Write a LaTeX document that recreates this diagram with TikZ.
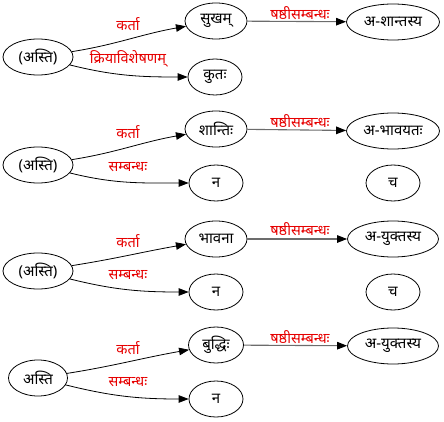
\documentclass[tikz,border=0pt]{standalone}
\usepackage{fontspec}
\newfontfamily\deva[Script=Devanagari]{Noto Sans}
\usetikzlibrary{shapes.geometric,arrows.meta}
\definecolor{lblred}{RGB}{230,0,0}
\begin{document}
\begin{tikzpicture}[x=1pt,y=-1pt,
  nd/.style={ellipse,draw=black,line width=0.8pt,inner sep=0pt,minimum height=36pt,font=\deva\fontsize{15}{17}\selectfont},
  lbl/.style={text=lblred,inner sep=0pt,font=\deva\fontsize{14.5}{16}\selectfont},
  ed/.style={draw=black,line width=0.8pt,-{Triangle[length=10pt,width=7.5pt]}},
  ged/.style={draw=gray!85!black,line width=1.1pt,-{Triangle[length=10pt,width=7.5pt,fill=black,color=black]}}]
\useasboundingbox (0,0) rectangle (444,422);
% group 1
\node[nd,minimum width=70pt] (a1) at (38,57) {(अस्ति)};
\node[nd,minimum width=62pt] (s1) at (216,21) {सुखम्};
\node[nd,minimum width=54pt] (k1) at (215,77) {कुतः};
\node[nd,minimum width=93pt] (r1) at (393,22) {अ-शान्तस्य};
\draw[ed] (a1) to[out=9,in=190] (s1);
\draw[ed] (a1) to[out=-14,in=180] (k1);
\draw[ged] (s1) -- (r1);
\node[lbl] (l1a) at (128,24) {कर्ता};
\node[lbl] (l1b) at (128,59) {क्रियाविशेषणम्};
\node[lbl] (l1c) at (300,13) {षष्ठीसम्बन्धः};
% group 2
\node[nd,minimum width=70pt] (a2) at (38,165) {(अस्ति)};
\node[nd,minimum width=62pt] (s2) at (216,129) {शान्तिः};
\node[nd,minimum width=54pt] (k2) at (216,183) {न};
\node[nd,minimum width=93pt] (r2) at (393,131) {अ-भावयतः};
\node[nd,minimum width=54pt] (c2) at (393,183) {च};
\draw[ed] (a2) to[out=9,in=190] (s2);
\draw[ed] (a2) to[out=-14,in=180] (k2);
\draw[ged] (s2) -- (r2);
\node[lbl] (l2a) at (128,132) {कर्ता};
\node[lbl] (l2b) at (128,167) {सम्बन्धः};
\node[lbl] (l2c) at (300,121) {षष्ठीसम्बन्धः};
% group 3
\node[nd,minimum width=70pt] (a3) at (38,271) {(अस्ति)};
\node[nd,minimum width=62pt] (s3) at (216,239) {भावना};
\node[nd,minimum width=54pt] (k3) at (216,292) {न};
\node[nd,minimum width=91pt] (r3) at (393,239) {अ-युक्तस्य};
\node[nd,minimum width=54pt] (c3) at (393,292) {च};
\draw[ed] (a3) to[out=9,in=190] (s3);
\draw[ed] (a3) to[out=-14,in=180] (k3);
\draw[ged] (s3) -- (r3);
\node[lbl] (l3a) at (128,241) {कर्ता};
\node[lbl] (l3b) at (128,275) {सम्बन्धः};
\node[lbl] (l3c) at (300,229) {षष्ठीसम्बन्धः};
% group 4
\node[nd,minimum width=59pt] (a4) at (38,378) {अस्ति};
\node[nd,minimum width=55pt] (s4) at (216,345) {बुद्धिः};
\node[nd,minimum width=54pt] (k4) at (216,399) {न};
\node[nd,minimum width=91pt] (r4) at (393,346) {अ-युक्तस्य};
\draw[ed] (a4) to[out=9,in=190] (s4);
\draw[ed] (a4) to[out=-14,in=180] (k4);
\draw[ged] (s4) -- (r4);
\node[lbl] (l4a) at (128,348) {कर्ता};
\node[lbl] (l4b) at (128,382) {सम्बन्धः};
\node[lbl] (l4c) at (300,337) {षष्ठीसम्बन्धः};
\end{tikzpicture}
\end{document}
